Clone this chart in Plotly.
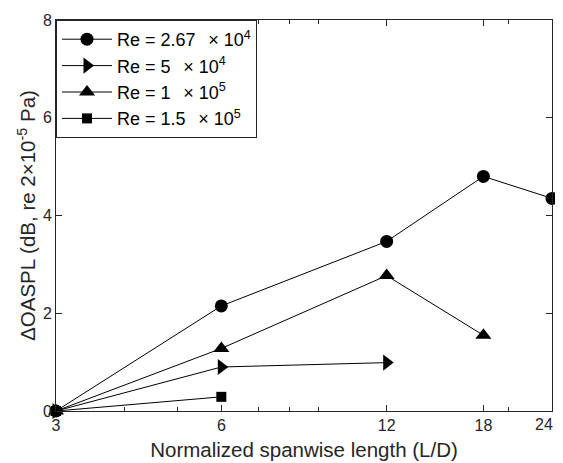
import plotly.graph_objects as go
import math

x_c = [3, 6, 12, 18, 24]
y_c = [0, 2.15, 3.47, 4.80, 4.35]
x_r = [3, 6, 12]
y_r = [0, 0.90, 0.99]
x_t = [3, 6, 12, 18]
y_t = [0, 1.28, 2.77, 1.55]
x_s = [3, 6]
y_s = [0, 0.29]

names = ["Re = 2.67\u2002\u2009× 10<sup>4</sup>", "Re = 5\u2002\u2009× 10<sup>4</sup>",
         "Re = 1\u2002\u2009× 10<sup>5</sup>", "Re = 1.5\u2002\u2009× 10<sup>5</sup>"]
x_ticks = [3, 6, 12, 18, 24]
x_tick_labels = ["3", "6", "12", "18", "24"]
x_minor = [4, 5, 7, 8, 9, 20]
y_ticks = [0, 2, 4, 6, 8]

series = [
    (x_c, y_c, "circle", 13),
    (x_r, y_r, "triangle-right", 14),
    (x_t, y_t, "triangle-up", 14),
    (x_s, y_s, "square", 10),
]

fig = go.Figure()
for i, ((xs, ys, sym, sz), nm) in enumerate(zip(series, names)):
    fig.add_trace(go.Scatter(
        x=xs, y=ys, name=nm, mode="lines+markers",
        line=dict(color="black", width=1),
        marker=dict(symbol=sym, size=sz, color="black"),
        cliponaxis=False, legendgroup=f"g{i}",
    ))

# the last tick label sits at the page edge: draw it right-aligned at its tick
tick_text_axis = x_tick_labels[:-1] + [""]
fig.add_annotation(x=math.log10(x_ticks[-1]), xref="x", y=0, yref="paper",
                   text=x_tick_labels[-1], showarrow=False,
                   xanchor="right", yanchor="top", xshift=3, yshift=-3,
                   font=dict(size=16, color="#262626"))

eps = 1e-5
font_family = "Liberation Sans, Arial, sans-serif"
fig.update_layout(
    width=555, height=455,
    margin=dict(l=48, r=11, t=12, b=52),
    plot_bgcolor="white", paper_bgcolor="white",
    font=dict(family=font_family, size=16, color="#262626"),
    legend=dict(x=0, y=1, xanchor="left", yanchor="top",
                bordercolor="#262626", borderwidth=1, bgcolor="white",
                font=dict(size=18, color="black"), itemwidth=50,
                tracegroupgap=0, traceorder="grouped"),
    xaxis=dict(
        type="log", range=[math.log10(3) - eps, math.log10(24) + eps],
        tickmode="array", tickvals=x_ticks, ticktext=tick_text_axis,
        ticks="inside", ticklen=6, tickcolor="#262626",
        showline=True, linecolor="#262626", linewidth=1, mirror="allticks",
        showgrid=False, zeroline=False, automargin=False,
        minor=dict(tickmode="array", tickvals=x_minor, ticks="inside",
                   ticklen=4, tickcolor="#262626", showgrid=False),
        title=dict(text="Normalized spanwise length (L/D)", font=dict(size=20.5), standoff=9),
        tickfont=dict(size=16),
    ),
    yaxis=dict(
        range=[0, 8], tickmode="array", tickvals=y_ticks,
        ticks="inside", ticklen=6, tickcolor="#262626",
        showline=True, linecolor="#262626", linewidth=1, mirror="allticks",
        showgrid=False, zeroline=False, automargin=False,
        title=dict(text="ΔOASPL (dB, re 2×10<sup>-5</sup> Pa)", font=dict(size=20.5), standoff=1),
        tickfont=dict(size=16),
    ),
    showlegend=True,
)

fig.write_html("out.html")
